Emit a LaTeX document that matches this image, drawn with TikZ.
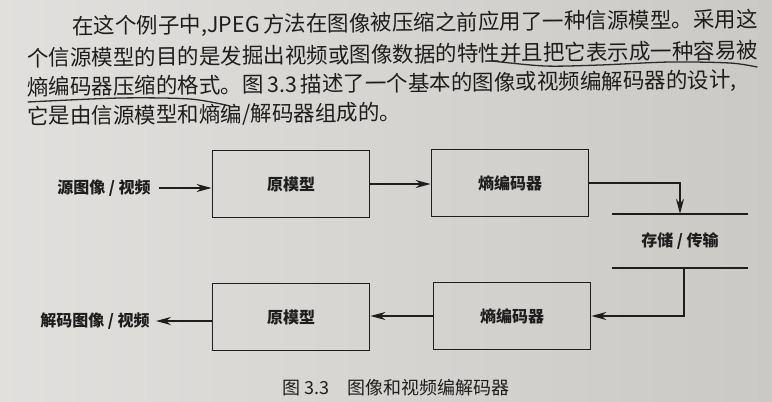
\documentclass[tikz,border=0pt]{standalone}
\usepackage{fontspec}
\setmainfont{Noto Sans CJK SC}
\XeTeXlinebreaklocale "zh"
\XeTeXlinebreakskip=0pt plus 3pt
\usetikzlibrary{positioning, arrows.meta, calc}
\definecolor{paper}{HTML}{DAD8D5}
\definecolor{paperdark}{HTML}{CBC9C6}
\definecolor{ink}{HTML}{1E1E1E}
\definecolor{pencil}{HTML}{2B2B2B}

\begin{document}
\begin{tikzpicture}[x=1pt, y=-1pt,
        every node/.style={text=ink},
        txtline/.style={anchor=west, inner sep=0pt, rotate=0.6,
                        font=\fontsize{21.5}{26}\selectfont},
        blk/.style={draw=ink, line width=1.8pt, minimum width=157pt,
                    minimum height=67pt, font=\fontsize{16}{18}\selectfont\bfseries},
        lbl/.style={inner sep=0pt, font=\fontsize{16}{18}\selectfont\bfseries},
        arr/.style={draw=ink, line width=1.8pt, -{Stealth[length=15pt,width=8pt]}},
        pen/.style={draw=pencil, line width=1.3pt, line cap=round},
      ]
      \useasboundingbox (0,0) rectangle (772,402);
      \shade[left color=paper!80!white, right color=paperdark] (0,0) rectangle (772,402);

      \node[txtline] (l1) at (72,27)
        {\makebox[693pt][s]{在这个例子中,JPEG\,方法在图像被压缩之前应用了一种信源模型。采用这}};
      \node[txtline] (l2) at (27,58)
        {\makebox[738pt][s]{个信源模型的目的是发掘出视频或图像数据的特性并且把它表示成一种容易被}};
      \node[txtline] (l3) at (27,88)
        {\makebox[738pt][s]{熵编码器压缩的格式。图\,3.3\,描述了一个基本的图像或视频编解码器的设计,}};
      \node[txtline] (l4) at (27,117) {它是由信源模型和熵编/解码器组成的。};

      \draw[pen] plot[smooth] coordinates {(492,61) (545,66) (600,65) (670,62) (730,63) (757,67)};
      \draw[pen] plot[smooth] coordinates {(28,102) (120,98) (190,99) (230,106)};

      \node[lbl] (src) at (104,188) {源图像 / 视频};
      \node[blk] (srcmodel) at (291,184) {原模型};
      \node[blk] (entenc) at (510,183) {熵编码器};
      \node[lbl, minimum width=135pt, minimum height=54pt] (store) at (680,241) {存储 / 传输};
      \node[blk] (entdec) at (512,316) {熵编码器};
      \node[blk] (dstmodel) at (291,317) {原模型};
      \node[lbl] (dst) at (95,321) {解码图像 / 视频};

      \draw (store.north west) edge[draw=ink, line width=1.8pt] (store.north east)
            (store.south west) edge[draw=ink, line width=1.8pt] (store.south east);

      \draw[arr] ([xshift=8pt]src.east) -- (src.east -| srcmodel.west);
      \draw[arr] (srcmodel.east) -- (srcmodel.east -| entenc.west);
      \draw[arr] (entenc.east) -| (store.north);
      \draw[arr] ([xshift=4pt]store.south) |- (entdec.east);
      \draw[arr] (entdec.west) -- (entdec.west -| dstmodel.east);
      \draw[arr] (dstmodel.west |- dst) -- ([xshift=6pt]dst.east);

      \node[anchor=west, inner sep=0pt, font=\fontsize{18}{20}\selectfont] (cap) at (282,388)
        {图 3.3\quad 图像和视频编解码器};
    \end{tikzpicture}
\end{document}
